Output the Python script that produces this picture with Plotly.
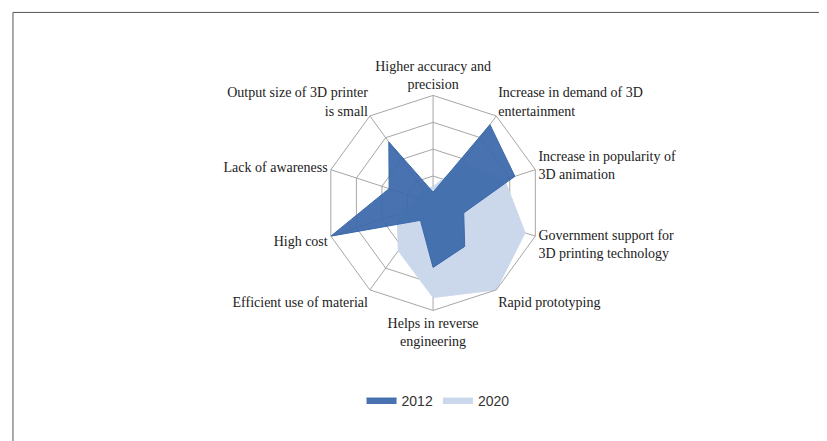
import plotly.graph_objects as go

categories = ["Higher accuracy and<br>precision", "Increase in demand of 3D<br>entertainment",
              "Increase in popularity of<br>3D animation", "Government support for<br>3D printing technology",
              "Rapid prototyping", "Helps in reverse<br>engineering", "Efficient use of material",
              "High cost", "Lack of awareness", "Output size of 3D printer<br>is small"]
v2012 = [10, 90, 80, 30, 50, 60, 20, 100, 43, 70]
v2020 = [15, 45, 70, 90, 100, 88, 55, 35, 15, 15]

fig = go.Figure()
fig.add_trace(go.Scatterpolar(r=v2020 + [v2020[0]], theta=categories + [categories[0]], name="2020",
                              fill="toself", fillcolor="#cbd8ec", line=dict(color="#cbd8ec", width=1),
                              mode="lines"))
fig.add_trace(go.Scatterpolar(r=v2012 + [v2012[0]], theta=categories + [categories[0]], name="2012",
                              fill="toself", fillcolor="rgba(58,104,170,0.93)", line=dict(color="#3a68aa", width=1),
                              mode="lines"))
fig.update_layout(
    width=827, height=441, margin=dict(l=0, r=0, t=0, b=0),
    paper_bgcolor="white", plot_bgcolor="white", showlegend=True,
    polar=dict(domain=dict(x=[0.384, 0.644], y=[0.314, 0.802]), bgcolor="white",
               gridshape="linear",
               radialaxis=dict(range=[0, 100], dtick=25, showticklabels=False, ticks="",
                               gridcolor="#a6a6a6", showline=False),
               angularaxis=dict(direction="clockwise", rotation=90, gridcolor="#a6a6a6",
                                linecolor="#a6a6a6", ticks="",
                                tickfont=dict(family="Liberation Serif, serif", size=14, color="#222"))),
    legend=dict(orientation="h", x=0.52, y=0.11, xanchor="center", yanchor="middle",
                traceorder="reversed", font=dict(family="Liberation Sans, Arial", size=14, color="#333")),
    shapes=[dict(type="rect", xref="paper", yref="paper", x0=0.006, x1=0.99, y0=0.012, y1=0.99,
                 line=dict(color="#555", width=1))],
)
fig.write_html("out.html")
